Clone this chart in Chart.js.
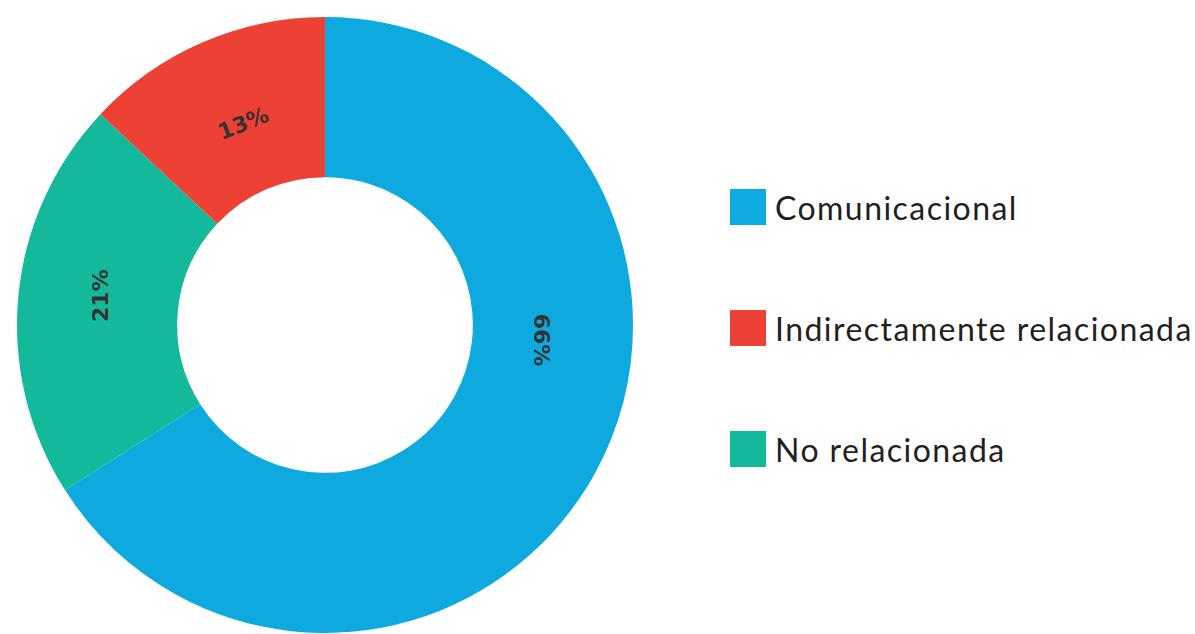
<!DOCTYPE html>
<html>
<head>
<meta charset="utf-8">
<script src="https://cdn.jsdelivr.net/npm/chart.js@4"></script>
<style>
  html, body { margin: 0; padding: 0; background: #fff; overflow: hidden; }
  #wrap { position: relative; width: 1195px; height: 634px; }
  #chartBox { position: absolute; left: 0; top: 0; width: 650px; height: 650px; }
  #legend { position: absolute; left: 730px; top: 0; font-family: Lato, sans-serif; font-size: 32px; letter-spacing: 1.45px; color: #231f20; }
  .item { position: absolute; left: 0; white-space: nowrap; display: flex; align-items: center; }
  .item span.box { display: inline-block; width: 36px; height: 36px; margin-right: 9px; }
</style>
</head>
<body>
<div id="wrap">
  <div id="chartBox"><canvas id="pie" width="650" height="650"></canvas></div>
  <div id="legend"></div>
</div>
<script>
// data (clockwise from top)
const labels = ["Comunicacional", "No relacionada", "Indirectamente relacionada"];
const values = [66, 21, 13];
const colors = ["#0eaadf", "#13b99a", "#ee4136"];
const legendOrder = [0, 2, 1];

// label placement: angle clockwise from top, distance from centre (fraction of outer radius), rotation
const labelPos = [
    { ang: 94, dist: 0.70, rot: 90 },
    { ang: 277.5, dist: 0.73, rot: -90 },
    { ang: 338, dist: 0.70, rot: -22 }
];

const pctLabels = {
    id: "pctLabels",
    afterDatasetsDraw(chart) {
        const ctx = chart.ctx;
        const arc = chart.getDatasetMeta(0).data[0];
        const cx = arc.x, cy = arc.y, r = arc.outerRadius;
        ctx.save();
        ctx.font = "bold 22px 'DejaVu Sans', sans-serif";
        ctx.fillStyle = "#333";
        ctx.textAlign = "center";
        ctx.textBaseline = "middle";
        values.forEach((v, i) => {
            const p = labelPos[i];
            const a = p.ang * Math.PI / 180;
            const x = cx + Math.sin(a) * r * p.dist;
            const y = cy - Math.cos(a) * r * p.dist;
            ctx.save();
            ctx.translate(x, y);
            ctx.rotate(p.rot * Math.PI / 180);
            ctx.fillText(v + "%", 0, 0);
            ctx.restore();
        });
        ctx.restore();
    }
};

new Chart(document.getElementById("pie"), {
    type: "doughnut",
    data: {
        labels: labels,
        datasets: [{
            data: values,
            backgroundColor: colors,
            borderWidth: 0
        }]
    },
    options: {
        responsive: false,
        animation: false,
        cutout: "48%",
        layout: { padding: 17 },
        plugins: {
            legend: { display: false },
            tooltip: { enabled: false }
        }
    },
    plugins: [pctLabels]
});

// html legend
const legendEl = document.getElementById("legend");
const rowsY = [207, 328, 449];
legendOrder.forEach((idx, k) => {
    const d = document.createElement("div");
    d.className = "item";
    d.style.top = (rowsY[k] - 20) + "px";
    d.style.height = "40px";
    d.innerHTML = '<span class="box" style="background:' + colors[idx] + '"></span>' + labels[idx];
    legendEl.appendChild(d);
});
</script>
</body>
</html>
